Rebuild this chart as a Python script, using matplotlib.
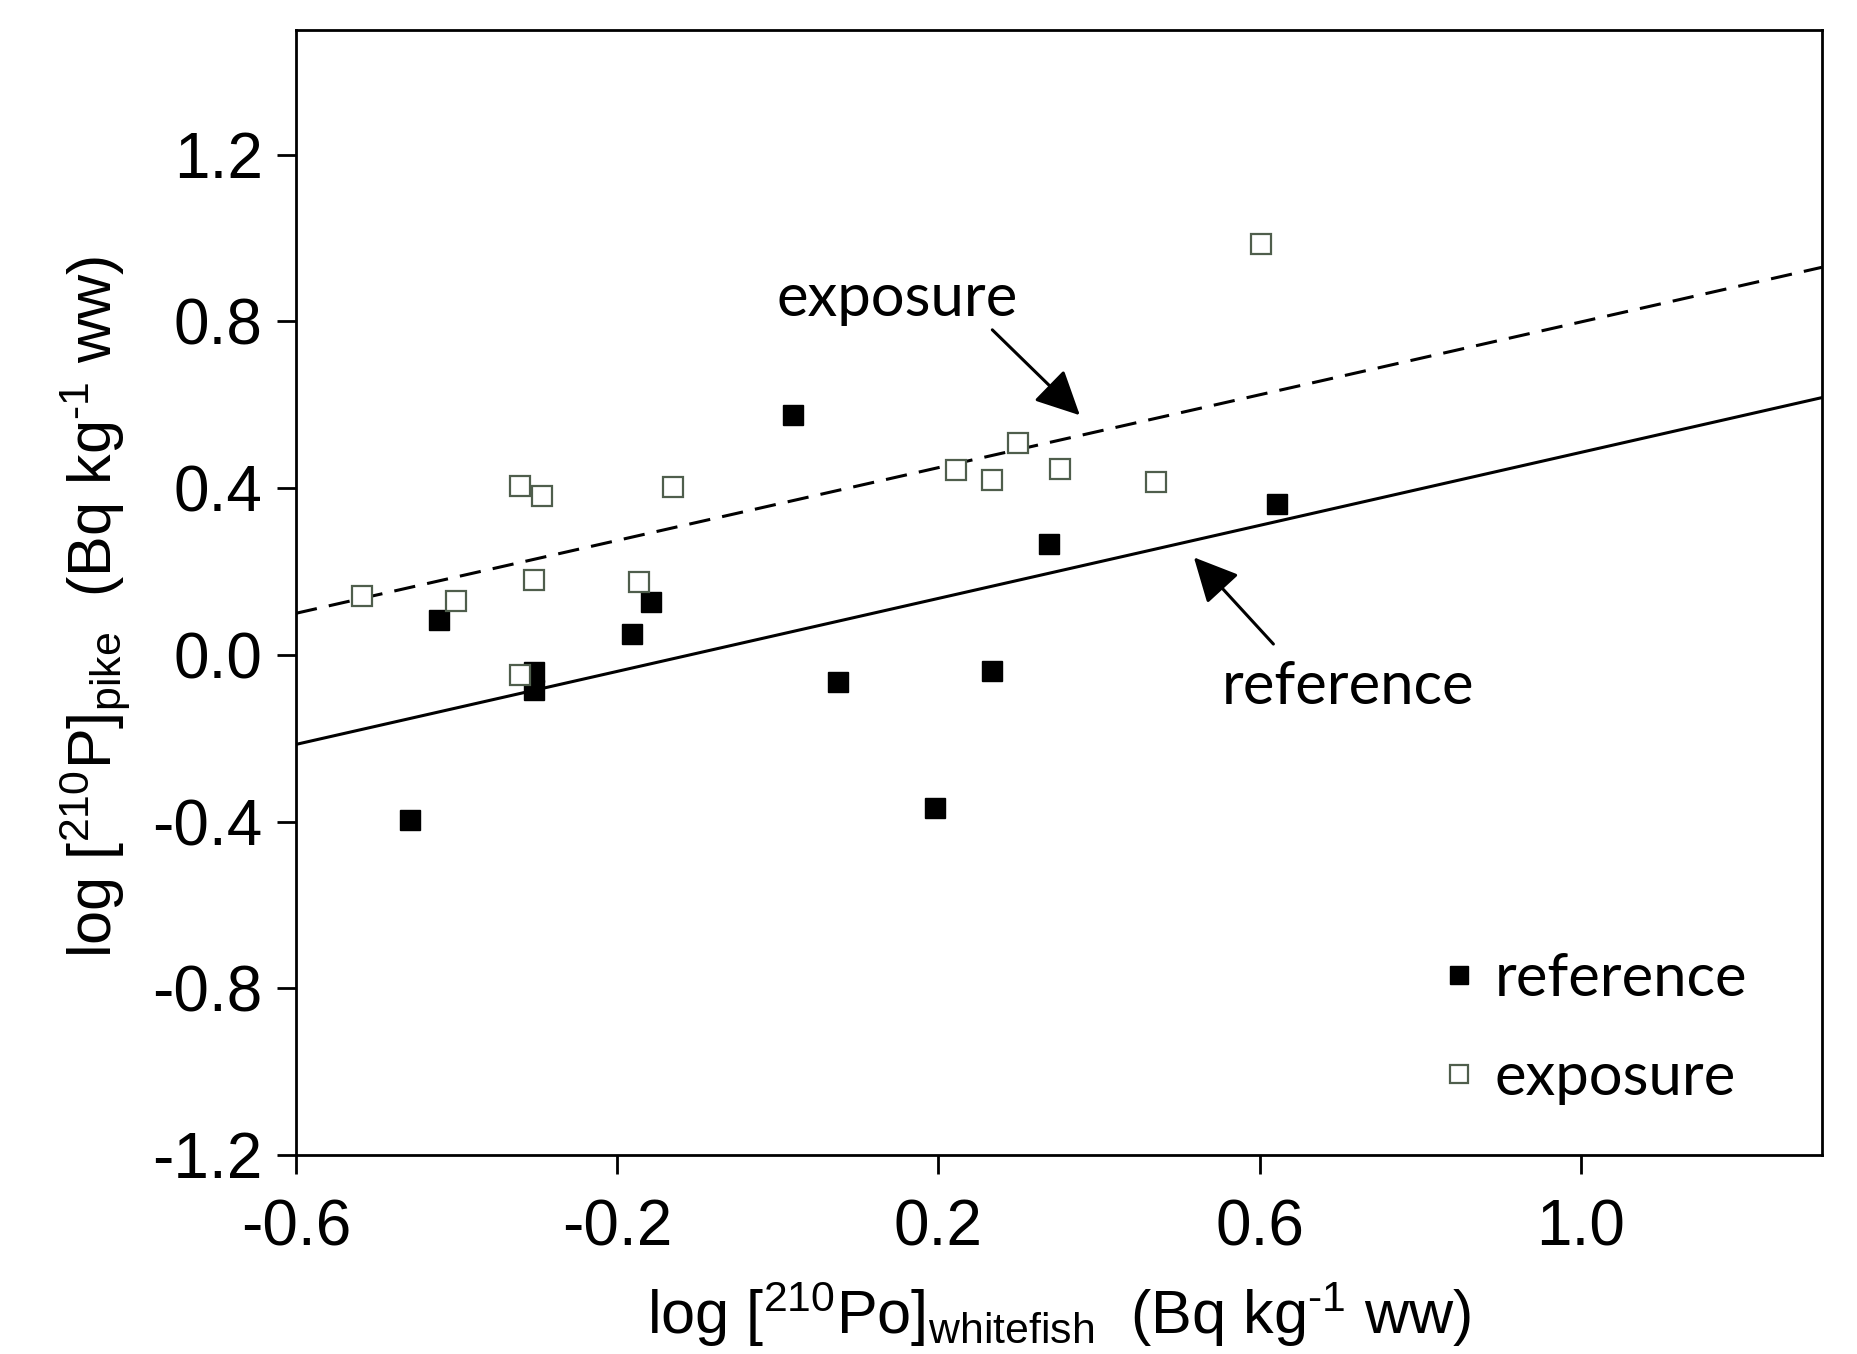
import numpy as np
import matplotlib
matplotlib.use("Agg")
import matplotlib.pyplot as plt

# reference fish (filled squares)
ref_x = [-0.458, -0.422, -0.304, -0.304, -0.181, -0.158, 0.019, 0.075, 0.196, 0.267, 0.337, 0.621]
ref_y = [-0.397, 0.084, -0.042, -0.084, 0.050, 0.127, 0.576, -0.064, -0.368, -0.039, 0.265, 0.362]

# exposure fish (open squares)
exp_x = [-0.518, -0.401, -0.321, -0.294, -0.304, -0.321, -0.131, -0.173,
         0.602, 0.222, 0.267, 0.299, 0.351, 0.471]
exp_y = [0.141, 0.130, 0.405, 0.381, 0.180, -0.048, 0.403, 0.175,
         0.987, 0.444, 0.420, 0.509, 0.446, 0.415]

# fitted lines (slope, intercept)
ref_fit = (0.438, 0.048)
exp_fit = (0.437, 0.362)

x_ticks = [-0.6, -0.2, 0.2, 0.6, 1.0]
y_ticks = [-1.2, -0.8, -0.4, 0.0, 0.4, 0.8, 1.2]

plt.rcParams["mathtext.fontset"] = "custom"
plt.rcParams["mathtext.rm"] = "Liberation Sans"
plt.rcParams["mathtext.default"] = "regular"

fig = plt.figure(figsize=(18.58, 13.54), dpi=100)
ax = fig.add_axes([0.1593, 0.147, 0.8213, 0.831])

xs = np.array([-0.6, 1.3])
ax.plot(xs, ref_fit[0] * xs + ref_fit[1], color="black", lw=2.2)
ax.plot(xs, exp_fit[0] * xs + exp_fit[1], color="black", lw=2.2, ls=(0, (7, 4)))

ax.plot(ref_x, ref_y, ls="none", marker="s", ms=15, mfc="black", mec="black",
        label="reference", zorder=3)
ax.plot(exp_x, exp_y, ls="none", marker="s", ms=15, mfc="white", mec="#4f5e4c",
        mew=1.6, label="exposure", zorder=3)

ax.set_xlim(-0.6, 1.3)
ax.set_ylim(-1.2, 1.5)
ax.set_xticks(x_ticks)
ax.set_xticklabels([f"{v:.1f}" for v in x_ticks])
ax.set_yticks(y_ticks)
ax.set_yticklabels([f"{v:.1f}" for v in y_ticks])

for s in ax.spines.values():
    s.set_linewidth(2)
ax.tick_params(axis="both", direction="out", length=14, width=2,
               labelsize=46, labelfontfamily="Liberation Sans")
ax.tick_params(axis="x", pad=17)
ax.tick_params(axis="y", pad=10)

ax.set_xlabel("log [$^{210}$Po]$_{whitefish}$  (Bq kg$^{\u20101}$ ww)",
              fontsize=44, family="Liberation Sans", va="center")
ax.xaxis.set_label_coords(0.5, -0.142)
ax.set_ylabel("log [$^{210}$P]$_{pike}$  (Bq kg$^{\u20101}$ ww)",
              fontsize=44, family="Liberation Sans", va="center")
ax.yaxis.set_label_coords(-0.132, 0.487)

arrow = dict(arrowstyle="-|>,head_length=0.65,head_width=0.32", lw=2.2,
             color="black", mutation_scale=42, shrinkA=0, shrinkB=0)
ax.annotate("", xy=(0.376, 0.575), xytext=(0.267, 0.78), arrowprops=arrow)
ax.annotate("", xy=(0.518, 0.234), xytext=(0.617, 0.026), arrowprops=arrow)
ax.text(0.148, 0.853, "exposure", fontsize=43, family="Lato", ha="center", va="center")
ax.text(0.71, -0.078, "reference", fontsize=43, family="Lato", ha="center", va="center")

ax.legend(loc="lower right", bbox_to_anchor=(0.986, -0.003), frameon=False,
          markerscale=0.85, prop={"family": "Lato", "size": 43}, handlelength=0.6,
          handletextpad=0.3, labelspacing=0.75, borderaxespad=0.5)

fig.savefig("out.png", dpi=100)
